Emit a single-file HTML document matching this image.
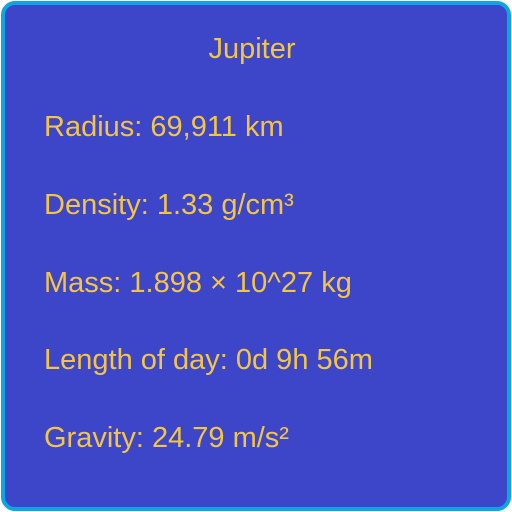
<!DOCTYPE html>
<html><head><meta charset="utf-8"><style>
html,body{margin:0;padding:0;background:#fff;}
body{width:512px;height:512px;position:relative;overflow:hidden;font-family:"Liberation Sans",sans-serif;}
.card{position:absolute;left:1px;top:1px;width:502px;height:502px;border:4px solid #0ea5e4;border-radius:14px;background:#3d45c9;}
.t{position:absolute;color:#f4c542;font-size:29px;line-height:1;white-space:nowrap;}
</style></head><body>
<div class="card"></div>
<div class="t" style="left:0;width:504px;text-align:center;top:35px;">Jupiter</div>
<div class="t" style="left:44px;top:113px;">Radius: 69,911 km</div>
<div class="t" style="left:44px;top:191px;">Density: 1.33 g/cm³</div>
<div class="t" style="left:44px;top:269px;">Mass: 1.898 × 10^27 kg</div>
<div class="t" style="left:44px;top:346px;">Length of day: 0d 9h 56m</div>
<div class="t" style="left:44px;top:424px;">Gravity: 24.79 m/s²</div>
</body></html>
